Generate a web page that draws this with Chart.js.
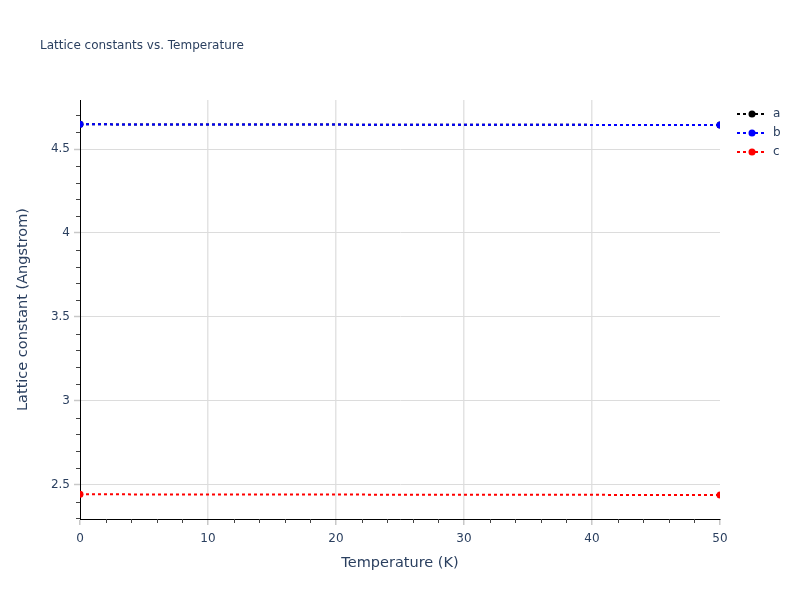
<!DOCTYPE html>
<html>
<head>
<meta charset="utf-8">
<script src="https://cdn.jsdelivr.net/npm/chart.js@4/dist/chart.umd.min.js"></script>
<style>
  body { margin: 0; background: #fff; }
  #wrap { width: 800px; height: 600px; }
</style>
</head>
<body>
<div id="wrap"><canvas id="latticeChart" width="800" height="600"></canvas></div>
<script>
// data
var temps = [0, 50];
var aVals = [4.647, 4.643];
var bVals = [4.647, 4.643];
var cVals = [2.443, 2.439];
var seriesNames = ['a', 'b', 'c'];
var seriesColors = ['#000000', '#0000ff', '#ff0000'];
var xTicks = [0, 10, 20, 30, 40, 50];
var yTicks = [2.5, 3, 3.5, 4, 4.5];

var textColor = '#2a3f5f';
var fontFam = '"DejaVu Sans", Verdana, sans-serif';

function toPts(ys) {
  return temps.map(function (t, i) { return { x: t, y: ys[i] }; });
}

function makeSet(idx, ys, order) {
  return {
    label: seriesNames[idx],
    data: toPts(ys),
    borderColor: seriesColors[idx],
    backgroundColor: seriesColors[idx],
    borderWidth: 2,
    borderDash: [3, 3],
    pointRadius: 3.5,
    pointHoverRadius: 3.5,
    pointBorderWidth: 0,
    order: order
  };
}

// titles, legend and minor ticks drawn over the chart
var decorPlugin = {
  id: 'decor',
  afterDraw: function (chart) {
    var ctx = chart.ctx;
    var xs = chart.scales.x, ys = chart.scales.y;
    var area = chart.chartArea;
    ctx.save();

    // minor ticks
    ctx.strokeStyle = '#444';
    ctx.lineWidth = 1;
    for (var v = 2; v <= 48; v += 2) {
      if (v % 10 === 0) continue;
      var px = Math.round(xs.getPixelForValue(v)) + 0.5;
      ctx.beginPath(); ctx.moveTo(px, area.bottom); ctx.lineTo(px, area.bottom + 4); ctx.stroke();
    }
    for (var k = 23; k <= 47; k++) {
      if (k % 5 === 0) continue;
      var py = Math.round(ys.getPixelForValue(k / 10)) + 0.5;
      if (py < area.top || py > area.bottom) continue;
      ctx.beginPath(); ctx.moveTo(area.left, py); ctx.lineTo(area.left - 4, py); ctx.stroke();
    }

    // title
    ctx.fillStyle = textColor;
    ctx.font = '12px ' + fontFam;
    ctx.textAlign = 'left';
    ctx.textBaseline = 'middle';
    ctx.fillText('Lattice constants vs. Temperature', 40, 46);

    // axis titles
    ctx.font = '14.5px ' + fontFam;
    ctx.textAlign = 'center';
    ctx.fillText('Temperature (K)', (area.left + area.right) / 2, 563);
    ctx.save();
    ctx.translate(23, (area.top + area.bottom) / 2);
    ctx.rotate(-Math.PI / 2);
    ctx.fillText('Lattice constant (Angstrom)', 0, 0);
    ctx.restore();

    // legend
    ctx.font = '12px ' + fontFam;
    ctx.textAlign = 'left';
    for (var i = 0; i < seriesNames.length; i++) {
      var ly = 114 + i * 19;
      ctx.strokeStyle = seriesColors[i];
      ctx.lineWidth = 2;
      ctx.setLineDash([3, 3]);
      ctx.beginPath(); ctx.moveTo(737, ly); ctx.lineTo(767, ly); ctx.stroke();
      ctx.setLineDash([]);
      ctx.fillStyle = seriesColors[i];
      ctx.beginPath(); ctx.arc(752, ly, 3.5, 0, Math.PI * 2); ctx.fill();
      ctx.fillStyle = textColor;
      ctx.fillText(seriesNames[i], 773, ly);
    }
    ctx.restore();
  }
};

var ctx = document.getElementById('latticeChart').getContext('2d');
new Chart(ctx, {
  type: 'line',
  data: {
    datasets: [
      makeSet(0, aVals, 3),
      makeSet(1, bVals, 2),
      makeSet(2, cVals, 1)
    ]
  },
  options: {
    responsive: false,
    animation: false,
    devicePixelRatio: 1,
    layout: { padding: { left: 0, top: 100, right: 80, bottom: 0 } },
    plugins: {
      legend: { display: false },
      title: { display: false },
      tooltip: { enabled: false }
    },
    scales: {
      x: {
        type: 'linear',
        min: 0,
        max: 50,
        afterBuildTicks: function (s) { s.ticks = xTicks.map(function (v) { return { value: v }; }); },
        afterFit: function (s) { s.height = 81; },
        border: { display: true, color: '#000', width: 1 },
        grid: {
          color: function (c) {
            var v = c.tick ? c.tick.value : 0;
            return (v === 0 || v === 50) ? 'rgba(0,0,0,0)' : '#e3e3e3';
          },
          lineWidth: 1.5,
          drawTicks: true,
          tickLength: 6,
          tickColor: '#c8c8c8',
          tickWidth: 1.5
        },
        ticks: {
          color: textColor,
          font: { family: fontFam, size: 12 },
          padding: 7,
          maxRotation: 0
        }
      },
      y: {
        type: 'linear',
        min: 2.296,
        max: 4.792,
        afterBuildTicks: function (s) { s.ticks = yTicks.map(function (v) { return { value: v }; }); },
        afterFit: function (s) { s.width = 80; },
        border: { display: true, color: '#000', width: 1 },
        grid: {
          color: '#dcdcdc',
          lineWidth: 1,
          drawTicks: true,
          tickLength: 6,
          tickColor: '#c8c8c8',
          tickWidth: 1.5
        },
        ticks: {
          color: textColor,
          font: { family: fontFam, size: 12 },
          padding: 4,
          callback: function (v) { return String(v); }
        }
      }
    }
  },
  plugins: [decorPlugin]
});
</script>
</body>
</html>
